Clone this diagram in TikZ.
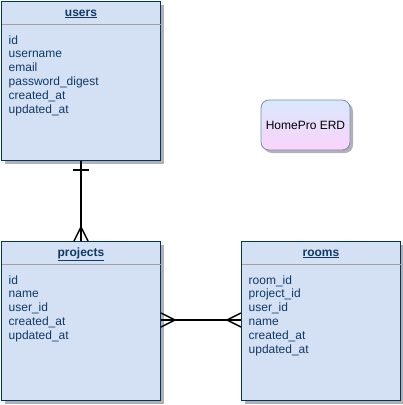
\documentclass[tikz,border=0pt]{standalone}
\usepackage{fontspec}
\setmainfont{Liberation Sans}
\usetikzlibrary{calc,shadows}
\definecolor{tblfill}{HTML}{D4E1F5}
\definecolor{tblline}{HTML}{003366}
\definecolor{tbltext}{HTML}{0F3A66}
\definecolor{hdrline}{HTML}{A0A0A0}
\definecolor{notetop}{HTML}{DAE8FC}
\definecolor{notebot}{HTML}{FBD3FB}
\definecolor{noteline}{HTML}{6C8EBF}
\tikzset{
  x=1pt, y=-1pt,
  tbl/.style={draw=tblline, line width=1pt, fill=tblfill, anchor=north west,
    minimum width=159pt, minimum height=159pt, inner sep=0pt,
    drop shadow={shadow xshift=3pt, shadow yshift=-3pt, fill=black, opacity=0.3}},
  ttl/.style={anchor=base, inner sep=0pt, text=tbltext, font=\fontsize{12}{14}\selectfont\bfseries},
  attr/.style={anchor=base west, inner sep=0pt, text=tbltext,
    font=\fontsize{12}{14}\selectfont},
  hdr/.style={draw=hdrline, line width=0.8pt},
  rel/.style={draw=black, line width=1.4pt},
  note/.style={draw=noteline, line width=0.8pt, rounded corners=8pt,
    top color=notetop, bottom color=notebot, minimum width=89pt, minimum height=50pt,
    font=\fontsize{12}{14}\selectfont, text=black, inner sep=0pt,
    drop shadow={shadow xshift=3pt, shadow yshift=-3pt, fill=black, opacity=0.3}}
}
\begin{document}
\begin{tikzpicture}
\useasboundingbox (0,0) rectangle (403,405);
% tables
\node[tbl] (users) at (1,1) {};
\node[tbl] (projects) at (1,241) {};
\node[tbl] (rooms) at (241,241) {};
% headers
\node[ttl] (usersT) at ($(users.north)+(0,15)$) {\underline{users}};
\node[ttl] (projectsT) at ($(projects.north)+(0,15)$) {\underline{projects}};
\node[ttl] (roomsT) at ($(rooms.north)+(0,15)$) {\underline{rooms}};
\draw[hdr] ($(users.north west)+(0.5,23.5)$) -- ($(users.north east)+(-0.5,23.5)$);
\draw[hdr] ($(projects.north west)+(0.5,23.5)$) -- ($(projects.north east)+(-0.5,23.5)$);
\draw[hdr] ($(rooms.north west)+(0.5,23.5)$) -- ($(rooms.north east)+(-0.5,23.5)$);
% attributes
\foreach \t [count=\i from 0] in {id,username,email,password\_digest,created\_at,updated\_at}
  \node[attr] (usersA\i) at ($(users.north west)+(7.5,43+13.8*\i)$) {\t};
\foreach \t [count=\i from 0] in {id,name,user\_id,created\_at,updated\_at}
  \node[attr] (projectsA\i) at ($(projects.north west)+(7.5,43+13.8*\i)$) {\t};
\foreach \t [count=\i from 0] in {room\_id,project\_id,user\_id,name,created\_at,updated\_at}
  \node[attr] (roomsA\i) at ($(rooms.north west)+(7.5,43+13.8*\i)$) {\t};
% note
\node[note] (erd) at (305.5,125) {HomePro ERD};
% relation users -- projects
\draw[rel] (users.south) -- (projects.north);
\draw[rel] ($(users.south)+(-8,9)$) -- ($(users.south)+(8,9)$);
\draw[rel] ($(projects.north)+(-7,0)$) -- ($(projects.north)+(0,-14)$) -- ($(projects.north)+(7,0)$);
% relation projects -- rooms
\draw[rel] (projects.east |- 0,320) coordinate (pe) -- (rooms.west |- 0,320) coordinate (rw);
\draw[rel] ($(pe)+(0,-7)$) -- ($(pe)+(14,0)$) -- ($(pe)+(0,7)$);
\draw[rel] ($(rw)+(0,-7)$) -- ($(rw)+(-14,0)$) -- ($(rw)+(0,7)$);
\end{tikzpicture}
\end{document}
